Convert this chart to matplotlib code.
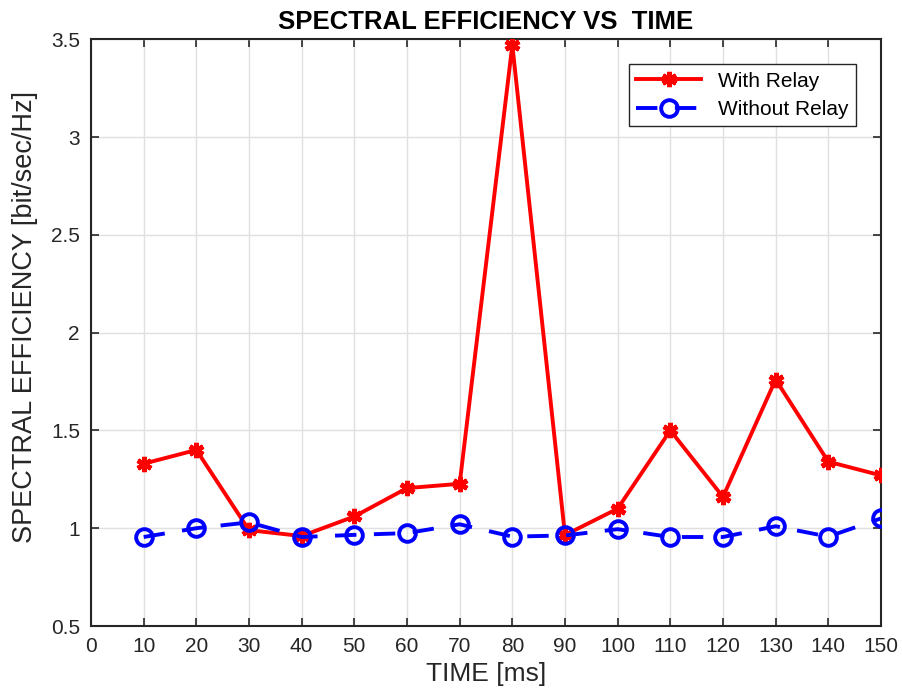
import matplotlib.pyplot as plt

plt.rcParams['font.family'] = ['Liberation Sans', 'DejaVu Sans']

# time axis [ms]
time_ms = [10, 20, 30, 40, 50, 60, 70, 80, 90, 100, 110, 120, 130, 140, 150]

# spectral efficiency [bit/sec/Hz]
with_relay = [1.33, 1.40, 0.99, 0.96, 1.06, 1.205, 1.227, 3.47, 0.965, 1.10,
              1.50, 1.16, 1.76, 1.34, 1.27]
without_relay = [0.955, 1.0, 1.03, 0.955, 0.966, 0.975, 1.02, 0.957, 0.963, 0.995,
                 0.955, 0.955, 1.01, 0.957, 1.05]

x_ticks = list(range(0, 151, 10))
y_ticks = [0.5, 1, 1.5, 2, 2.5, 3, 3.5]
y_tick_labels = ['0.5', '1', '1.5', '2', '2.5', '3', '3.5']

fig = plt.figure(figsize=(9.03, 7.0), dpi=100)
ax = fig.add_axes([0.1008, 0.1057, 0.8748, 0.8383])

ax.plot(time_ms, with_relay, color='red', linestyle='-', linewidth=2.8,
        marker=(6, 2, 0), markersize=11, markeredgewidth=3.5, label='With Relay', zorder=3)
ax.plot(time_ms, without_relay, color='blue', linestyle=(0, (5.5, 4.5)), linewidth=2.8,
        marker='o', markersize=12, markerfacecolor='none', markeredgewidth=2.8,
        label='Without Relay', zorder=3)

ax.set_xlim(0, 150)
ax.set_ylim(0.5, 3.5)
ax.set_xticks(x_ticks)
ax.set_yticks(y_ticks)
ax.set_yticklabels(y_tick_labels)
ax.tick_params(direction='in', length=6, width=1.2, top=True, right=True,
               labelsize=15, colors='#262626', pad=8)
ax.grid(True, color='#e0e0e0', linewidth=1)
ax.set_axisbelow(True)
for s in ax.spines.values():
    s.set_linewidth(1.5)
    s.set_color('#262626')

ax.set_title('SPECTRAL EFFICIENCY VS  TIME', fontsize=18.5, fontweight='bold', pad=7)
ax.set_xlabel('TIME [ms]', fontsize=19, color='#262626', labelpad=4)
ax.set_ylabel('SPECTRAL EFFICIENCY [bit/sec/Hz]', fontsize=19.5, color='#262626')
ax.yaxis.set_label_coords(-0.067, 0.527)

leg = ax.legend(loc='upper right', bbox_to_anchor=(0.981, 0.975), fontsize=15,
                fancybox=False, framealpha=1, edgecolor='#262626',
                handlelength=3.1, borderpad=0.35, labelspacing=0.45)
leg.get_frame().set_linewidth(1)

fig.savefig('out.png', dpi=100)
